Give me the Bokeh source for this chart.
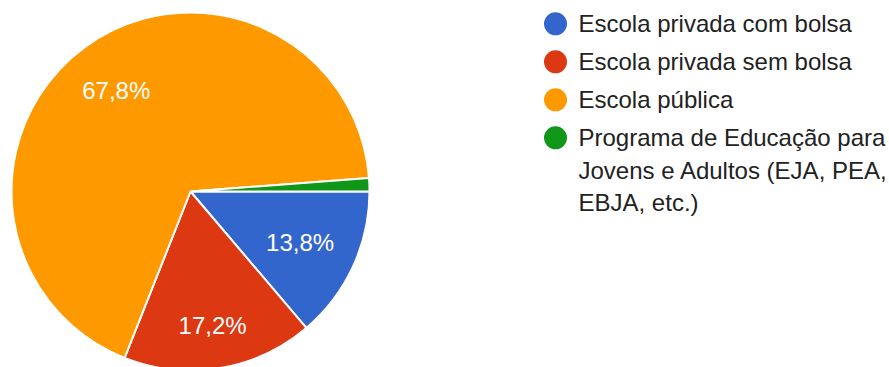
import numpy as np
from bokeh.plotting import figure
from bokeh.models import ColumnDataSource, Range1d
from bokeh.core.properties import value
from bokeh.embed import file_html
from bokeh.resources import INLINE

# ---- data ----
categories = [
    "Escola privada com bolsa",
    "Escola privada sem bolsa",
    "Escola pública",
    "Programa de Educação para\nJovens e Adultos (EJA, PEA,\nEBJA, etc.)",
]
shares = [13.8, 17.2, 67.8, 1.2]
pct_labels = ["13,8%", "17,2%", "67,8%", ""]
colors = ["#3366CC", "#DC3912", "#FF9900", "#109618"]

# ---- layout / style ----
W, H = 889, 367
FONT = "Liberation Sans"
FS = "24px"
CX, CY = 190, H - 191          # pie centre (figure px, y up)
R = 179
LABEL_RADIUS = [0.675, 0.76, 0.70, 0.7]
LEG_DOT_X, LEG_TEXT_X = 555, 578
LEG_TOP_MID = 23.3             # first legend row centre, from figure top
LEG_ITEM_STEP = 38.0
LEG_LINE_STEP = 32.5

p = figure(width=W, height=H, output_backend="svg", toolbar_location=None,
           x_range=Range1d(0, W), y_range=Range1d(0, H),
           x_axis_type=None, y_axis_type=None, min_border=0,
           background_fill_color="white", border_fill_color="white")
p.outline_line_color = None
p.grid.visible = False

vals = np.array(shares, dtype=float)
frac = vals / vals.sum()
cum = np.concatenate([[0.0], np.cumsum(frac)])
start = -2 * np.pi * cum[1:]
end = -2 * np.pi * cum[:-1]

src = ColumnDataSource(dict(start=start, end=end, color=colors))
p.wedge(x=CX, y=CY, radius=R, start_angle="start", end_angle="end",
        direction="anticlock", fill_color="color", line_color="white",
        line_width=2, source=src)

mid = -2 * np.pi * (cum[:-1] + frac / 2)
lr = np.array(LABEL_RADIUS) * R
lx = CX + lr * np.cos(mid)
ly = CY + lr * np.sin(mid)
p.text(x=lx, y=ly, text=pct_labels, text_font=value(FONT), text_font_size=FS,
       text_color="white", text_align="center", text_baseline="middle")

# ---- legend ----
dot_x, dot_y, tx, ty, tt = [], [], [], [], []
for i, cat in enumerate(categories):
    first = LEG_TOP_MID + i * LEG_ITEM_STEP
    dot_x.append(LEG_DOT_X)
    dot_y.append(H - first)
    for j, ln in enumerate(cat.split("\n")):
        tx.append(LEG_TEXT_X)
        ty.append(H - (first + j * LEG_LINE_STEP))
        tt.append(ln)

p.scatter(x=dot_x, y=dot_y, size=23, marker="circle", fill_color=colors,
          line_color=None)
p.text(x=tx, y=ty, text=tt, text_font=value(FONT), text_font_size=FS,
       text_color="#222222", text_align="left", text_baseline="middle")

open("out.html", "w").write(file_html(p, INLINE))
